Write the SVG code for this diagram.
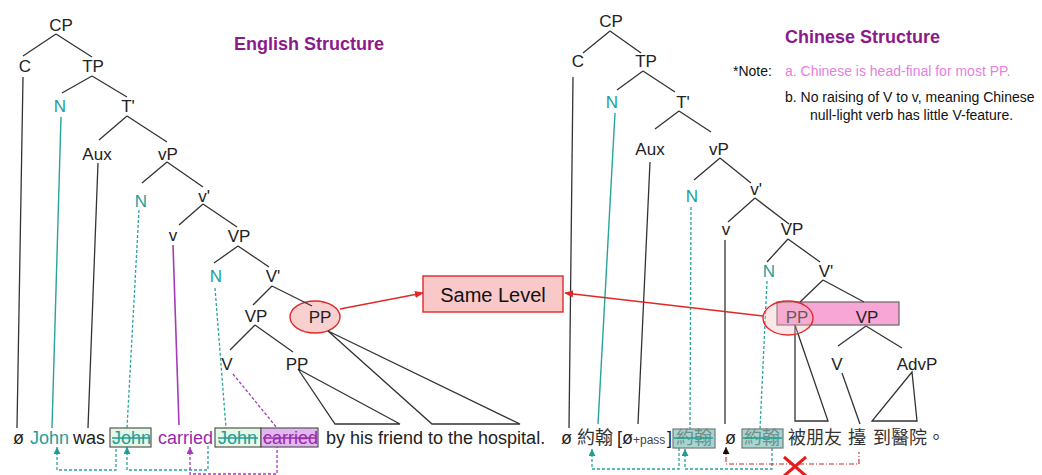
<svg xmlns="http://www.w3.org/2000/svg" width="1042" height="475" viewBox="0 0 1042 475">
  <defs>
    <style>
      .lbl { font-family: "Liberation Sans", Arial, sans-serif; font-size: 17px; fill: #222; text-anchor: middle; }
      .word { font-family: "Liberation Sans", Arial, sans-serif; font-size: 18px; fill: #222; }
      .cjk { font-family: "Liberation Sans", "Noto Sans CJK TC", sans-serif; font-size: 18px; fill: #333; }
      .title { font-family: "Liberation Sans", Arial, sans-serif; font-size: 18px; font-weight: bold; fill: #8b1a8b; }
      .note { font-family: "Liberation Sans", Arial, sans-serif; font-size: 14px; fill: #111; }
      .teal { fill: #1f9e99; }
      .purp { fill: #9b2aa8; }
      .edge { stroke: #333; stroke-width: 1.3; fill: none; }
      .tealLine { stroke: #2aa39c; stroke-width: 1.4; fill: none; }
      .tealDash { stroke: #2aa39c; stroke-width: 1.3; fill: none; stroke-dasharray: 3 2; }
      .purpLine { stroke: #a63ab8; stroke-width: 1.6; fill: none; }
      .purpDash { stroke: #a63ab8; stroke-width: 1.3; fill: none; stroke-dasharray: 3 2; }
      .redLine { stroke: #e02828; stroke-width: 1.4; fill: none; }
      .redDash { stroke: #c82828; stroke-width: 1.1; fill: none; stroke-dasharray: 5 2 1 2; }
      .strike { stroke-width: 1.3; }
    </style>
    <marker id="arrRed" viewBox="0 0 10 10" refX="9" refY="5" markerWidth="9" markerHeight="9" markerUnits="userSpaceOnUse" orient="auto">
      <path d="M0,1 L10,5 L0,9 z" fill="#e02828"/>
    </marker>
    <!-- small heads placed at the start of upward-pointing movement paths -->
    <marker id="arrTeal" viewBox="0 0 10 10" refX="10" refY="5" markerWidth="7" markerHeight="7" markerUnits="userSpaceOnUse" orient="auto-start-reverse">
      <path d="M0,0 L10,5 L0,10 z" fill="#1f9e99"/>
    </marker>
    <marker id="arrPurp" viewBox="0 0 10 10" refX="10" refY="5" markerWidth="7" markerHeight="7" markerUnits="userSpaceOnUse" orient="auto-start-reverse">
      <path d="M0,0 L10,5 L0,10 z" fill="#a63ab8"/>
    </marker>
    <marker id="arrBlk" viewBox="0 0 10 10" refX="10" refY="5" markerWidth="7" markerHeight="7" markerUnits="userSpaceOnUse" orient="auto-start-reverse">
      <path d="M0,0 L10,5 L0,10 z" fill="#111"/>
    </marker>
  </defs>

  <rect x="0" y="0" width="1042" height="475" fill="#ffffff"/>

  <!-- headings and note -->
  <text class="title" x="234" y="50">English Structure</text>
  <text class="title" x="785" y="43">Chinese Structure</text>
  <text class="note" x="733" y="76">*Note:</text>
  <text class="note" x="785" y="76" style="fill:#e67fe0">a. Chinese is head-final for most PP.</text>
  <text class="note" x="785" y="102">b. No raising of V to v, meaning Chinese</text>
  <text class="note" x="810" y="120">null-light verb has little V-feature.</text>

  <!-- highlighted phrases -->
  <rect x="777" y="302" width="122" height="23" fill="#f7a6d6" stroke="#666" stroke-width="1.2"/>
  <ellipse cx="315" cy="317" rx="25" ry="16" fill="#f9d0d0" stroke="#e02828" stroke-width="1.4"/>

  <g id="connectors">
    <!-- English tree -->
    <path class="edge" d="M56,34 L23,56 M56,34 L92,57"/>
    <path class="edge" d="M23,77 L17,428"/>
    <path class="edge" d="M92,76 L62,93 M92,76 L127,97"/>
    <path class="tealLine" d="M61,117 L52,428"/>
    <path class="edge" d="M127,116 L99,140 M127,116 L167,142"/>
    <path class="edge" d="M98,163 L88,428"/>
    <path class="edge" d="M167,162 L142,183 M167,162 L203,187"/>
    <path class="tealDash" d="M139,210 L127,428"/>
    <path class="edge" d="M203,204 L179,225 M203,204 L237,227"/>
    <path class="purpLine" d="M173,245 L179,425"/>
    <path class="edge" d="M238,246 L214,263 M238,246 L269,267"/>
    <path class="tealDash" d="M215,288 L226,428"/>
    <path class="edge" d="M272,286 L253,305 M272,286 L312,306"/>
    <path class="edge" d="M255,325 L230,350 M255,325 L293,352"/>
    <path class="purpDash" d="M233,374 L277,428"/>
    <path class="edge" d="M298,369 L335,424 L400,424 Z"/>
    <path class="edge" d="M328,331 L432,424 L520,424 Z"/>

    <!-- Chinese tree -->
    <path class="edge" d="M610,31 L583,53 M610,31 L641,53"/>
    <path class="edge" d="M573,77 L569,428"/>
    <path class="edge" d="M643,71 L617,90 M643,71 L675,92"/>
    <path class="tealLine" d="M615,113 L598,424"/>
    <path class="edge" d="M679,111 L655,129 M679,111 L711,132"/>
    <path class="edge" d="M650,162 L638,424"/>
    <path class="edge" d="M720,158 L694,180 M720,158 L751,183"/>
    <path class="tealDash" d="M691,207 L690,429"/>
    <path class="edge" d="M755,198 L728,222 M755,198 L789,224"/>
    <path class="edge" d="M725,240 L725,424"/>
    <path class="edge" d="M788,239 L767,262 M788,239 L820,262"/>
    <path class="tealDash" d="M767,281 L760,429"/>
    <path class="edge" d="M823,280 L800,302 M823,280 L864,302"/>
    <path class="edge" d="M795,325 L795,421 L828,421 Z"/>
    <path class="edge" d="M866,326 L838,346 M866,326 L902,348"/>
    <path class="edge" d="M842,373 L860,424"/>
    <path class="edge" d="M912,372 L872,421 L917,421 Z"/>

    <!-- same-level pointers -->
    <path class="redLine" d="M340,309 L423,293" marker-end="url(#arrRed)"/>
    <path class="redLine" d="M763,316 L565,293" marker-end="url(#arrRed)"/>

    <!-- English movement -->
    <path class="tealDash" d="M57,447 L57,470 L116,470 L116,447" marker-start="url(#arrTeal)"/>
    <path class="tealDash" d="M127,447 L127,470 L208,470 L208,444" marker-start="url(#arrTeal)"/>
    <path class="purpDash" d="M190,447 L190,474 L277,474 L277,447" marker-start="url(#arrPurp)"/>

    <!-- Chinese movement -->
    <path class="tealDash" d="M592,449 L592,469 L679,469 L679,448" marker-start="url(#arrTeal)"/>
    <path class="tealDash" d="M685,449 L685,469 L772,469 L772,448" marker-start="url(#arrTeal)"/>
    <path class="redDash" d="M726,447 L726,464 L859,464 L859,452" marker-start="url(#arrBlk)"/>
    <path d="M784,457 L806,476 M806,457 L784,476" stroke="#e81c1c" stroke-width="3" fill="none"/>
  </g>

  <!-- English tree nodes -->
  <g id="e-CP"><text class="lbl" x="61" y="31">CP</text></g>
  <g id="e-C"><text class="lbl" x="25" y="72">C</text></g>
  <g id="e-TP"><text class="lbl" x="93" y="72">TP</text></g>
  <g id="e-N1"><text class="lbl teal" x="60" y="112">N</text></g>
  <g id="e-Tbar"><text class="lbl" x="128" y="112">T'</text></g>
  <g id="e-Aux"><text class="lbl" x="97" y="160">Aux</text></g>
  <g id="e-vP"><text class="lbl" x="168" y="160">vP</text></g>
  <g id="e-N2"><text class="lbl teal" x="141" y="207">N</text></g>
  <g id="e-vbar"><text class="lbl" x="204" y="202">v'</text></g>
  <g id="e-v"><text class="lbl" x="173" y="241">v</text></g>
  <g id="e-VP1"><text class="lbl" x="239" y="242">VP</text></g>
  <g id="e-N3"><text class="lbl teal" x="216" y="282">N</text></g>
  <g id="e-Vbar"><text class="lbl" x="273" y="282">V'</text></g>
  <g id="e-VP2"><text class="lbl" x="256" y="322">VP</text></g>
  <g id="e-PP1"><text class="lbl" x="320" y="323">PP</text></g>
  <g id="e-V"><text class="lbl" x="227" y="370">V</text></g>
  <g id="e-PP2"><text class="lbl" x="297" y="370">PP</text></g>

  <!-- Chinese tree nodes -->
  <g id="c-CP"><text class="lbl" x="611" y="27">CP</text></g>
  <g id="c-C"><text class="lbl" x="578" y="67">C</text></g>
  <g id="c-TP"><text class="lbl" x="646" y="67">TP</text></g>
  <g id="c-N1"><text class="lbl teal" x="612" y="108">N</text></g>
  <g id="c-Tbar"><text class="lbl" x="683" y="108">T'</text></g>
  <g id="c-Aux"><text class="lbl" x="650" y="155">Aux</text></g>
  <g id="c-vP"><text class="lbl" x="719" y="155">vP</text></g>
  <g id="c-N2"><text class="lbl teal" x="692" y="202">N</text></g>
  <g id="c-vbar"><text class="lbl" x="756" y="195">v'</text></g>
  <g id="c-v"><text class="lbl" x="726" y="235">v</text></g>
  <g id="c-VP1"><text class="lbl" x="792" y="235">VP</text></g>
  <g id="c-N3"><text class="lbl teal" x="769" y="277">N</text></g>
  <g id="c-Vbar"><text class="lbl" x="826" y="277">V'</text></g>
  <g id="c-PP"><text class="lbl" x="797" y="323">PP</text></g>
  <g id="c-VP2"><text class="lbl" x="867" y="323">VP</text></g>
  <g id="c-V"><text class="lbl" x="837" y="370">V</text></g>
  <g id="c-AdvP"><text class="lbl" x="917" y="370">AdvP</text></g>
  <ellipse cx="788" cy="318" rx="25" ry="17" fill="#f4b6c4" fill-opacity="0.35" stroke="#e02828" stroke-width="1.4"/>

  <!-- pivot box -->
  <g id="same-level">
    <rect x="423" y="276" width="140" height="36" fill="#f9c8c8" stroke="#e02828" stroke-width="1.4"/>
    <text x="493" y="302" style="font-family:'Liberation Sans',Arial,sans-serif;font-size:20px;fill:#111;text-anchor:middle">Same Level</text>
  </g>

  <!-- English sentence -->
  <g id="e-sentence">
    <text class="word" x="13" y="444">ø</text>
    <text class="word teal" x="30" y="444">John</text>
    <text class="word" x="73" y="444">was</text>
    <rect x="110" y="428" width="41" height="19" fill="#e6f8e6" stroke="#555" stroke-width="1.2"/>
    <text class="word teal" x="112" y="444">John</text>
    <line class="strike" x1="112" y1="438" x2="150" y2="438" stroke="#1f9e99"/>
    <text class="word purp" x="158" y="444">carried</text>
    <rect x="215" y="428" width="46" height="19" fill="#e6f8e6" stroke="#555" stroke-width="1.2"/>
    <rect x="261" y="428" width="57" height="19" fill="#e2b6ee" stroke="#555" stroke-width="1.2"/>
    <text class="word teal" x="218" y="444">John</text>
    <line class="strike" x1="218" y1="438" x2="258" y2="438" stroke="#1f9e99"/>
    <text class="word purp" x="263" y="444">carried</text>
    <line class="strike" x1="263" y1="438" x2="317" y2="438" stroke="#9b2aa8"/>
    <text class="word" x="326" y="444">by his friend to the hospital.</text>
  </g>

  <!-- Chinese sentence -->
  <g id="c-sentence">
    <text class="word" x="561" y="444">ø</text>
    <text class="cjk" x="577" y="444">約翰</text>
    <text class="word" x="617" y="444">[ø</text>
    <text class="word" x="633" y="444" style="font-size:12px;fill:#444">+pass</text>
    <text class="word" x="667" y="444">]</text>
    <rect x="673" y="429" width="42" height="19" fill="#a6d6cf" stroke="#777" stroke-width="1.2"/>
    <text class="cjk" x="676" y="444" style="fill:#6f8f8c">約翰</text>
    <line class="strike" x1="674" y1="438" x2="713" y2="438" stroke="#1f9e99"/>
    <text class="word" x="725" y="444">ø</text>
    <rect x="742" y="429" width="41" height="19" fill="#a6d6cf" stroke="#777" stroke-width="1.2"/>
    <text class="cjk" x="744" y="444" style="fill:#6f8f8c">約翰</text>
    <line class="strike" x1="743" y1="438" x2="782" y2="438" stroke="#1f9e99"/>
    <text class="cjk" x="788" y="444">被朋友</text>
    <text class="cjk" x="848" y="444">擡</text>
    <text class="cjk" x="873" y="444">到醫院。</text>
  </g>
</svg>
